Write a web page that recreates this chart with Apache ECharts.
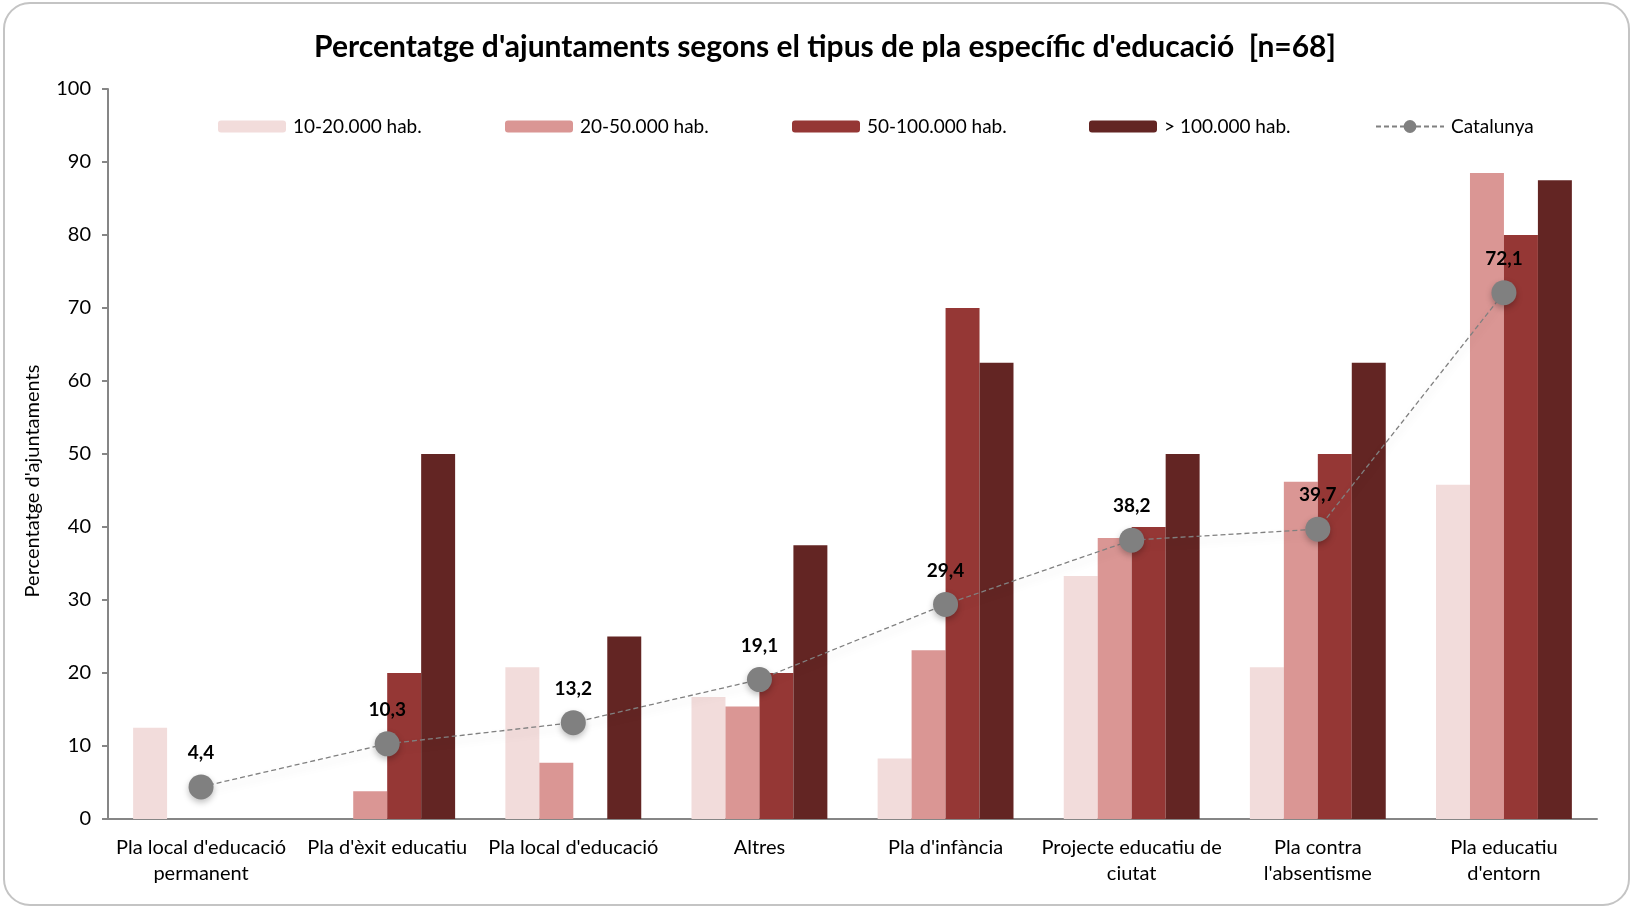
<!DOCTYPE html>
<html>
<head>
<meta charset="utf-8">
<title>Pla específic d'educació</title>
<script src="https://cdn.jsdelivr.net/npm/echarts@6/dist/echarts.min.js"></script>
<style>
  html, body { margin: 0; padding: 0; background: #fff; }
  #chart { width: 1633px; height: 909px; }
</style>
</head>
<body>
<div id="chart"></div>
<script>
// categories (x axis)
const categories = [
  "Pla local d'educació\npermanent",
  "Pla d'èxit educatiu",
  "Pla local d'educació",
  'Altres',
  "Pla d'infància",
  'Projecte educatiu de\nciutat',
  "Pla contra\nl'absentisme",
  "Pla educatiu\nd'entorn"
]
const seriesNames = ['10-20.000 hab.', '20-50.000 hab.', '50-100.000 hab.', '> 100.000 hab.']
const hab10to20 = [12.5, 0, 20.8, 16.7, 8.3, 33.3, 20.8, 45.8]
const hab20to50 = [0, 3.8, 7.7, 15.4, 23.1, 38.5, 46.2, 88.5]
const hab50to100 = [0, 20, 0, 20, 70, 40, 50, 80]
const habOver100 = [0, 50, 25, 37.5, 62.5, 50, 62.5, 87.5]
const catalunya = [4.4, 10.3, 13.2, 19.1, 29.4, 38.2, 39.7, 72.1]

const barColors = ['#F2DCDB', '#DA9694', '#953735', '#632523']
const FONT = 'Lato'

const chart = echarts.init(document.getElementById('chart'))

const barSeries = [hab10to20, hab20to50, hab50to100, habOver100].map((data, i) => ({
  name: seriesNames[i],
  type: 'bar',
  data,
  barGap: '0%',
  barCategoryGap: '27%',
  itemStyle: { color: barColors[i] }
}))

// one legend per item so the slots are evenly spaced like the original
const legendLefts = [218, 505, 792, 1089, 1375]
const legendNames = [...seriesNames, 'Catalunya']
const legends = legendNames.map((name, i) => ({
  data: [name],
  left: legendLefts[i],
  top: 117,
  itemWidth: 68,
  itemHeight: i === 4 ? 16 : 12,
  itemGap: 0,
  padding: 0,
  textStyle: { fontFamily: FONT, fontSize: 19, color: '#000', padding: [0, 0, 0, 2] }
}))

const option = {
  animation: false,
  backgroundColor: '#fff',
  textStyle: { fontFamily: FONT },
  legend: legends,
  graphic: [
    {
      type: 'rect',
      shape: { x: 4, y: 3, width: 1625, height: 902, r: 26 },
      style: { fill: 'none', stroke: '#C4C4C4', lineWidth: 2 },
      silent: true,
      z: -1
    },
    {
      // chart title
      type: 'text',
      x: 825,
      y: 47,
      style: {
        text: "Percentatge d'ajuntaments segons el tipus de pla específic d'educació  [n=68]",
        fontFamily: FONT,
        fontSize: 30,
        fontWeight: 'bold',
        fill: '#000',
        align: 'center',
        verticalAlign: 'middle'
      }
    },
    {
      type: 'text',
      x: 33,
      y: 481,
      rotation: Math.PI / 2,
      style: {
        text: "Percentatge d'ajuntaments",
        fontFamily: FONT,
        fontSize: 20,
        fill: '#000',
        align: 'center',
        verticalAlign: 'middle'
      }
    }
  ],
  grid: { left: 108, right: 36, top: 89, bottom: 90 },
  xAxis: {
    type: 'category',
    data: categories,
    axisLine: { lineStyle: { color: '#868686', width: 2 } },
    axisTick: { show: false },
    axisLabel: { fontFamily: FONT, fontSize: 20, color: '#000', margin: 16, lineHeight: 26, interval: 0 }
  },
  yAxis: {
    type: 'value',
    min: 0,
    max: 100,
    interval: 10,
    axisLine: { show: true, lineStyle: { color: '#868686', width: 2 } },
    axisTick: { show: true, length: 6, lineStyle: { color: '#868686', width: 2 } },
    splitLine: { show: false },
    axisLabel: { fontFamily: FONT, fontSize: 20, color: '#000', margin: 17 }
  },
  series: [
    ...barSeries,
    {
      name: 'Catalunya',
      type: 'line',
      data: catalunya,
      z: 5,
      symbol: 'circle',
      symbolSize: 25,
      itemStyle: {
        color: '#808080',
        shadowColor: 'rgba(0,0,0,0.25)',
        shadowBlur: 6,
        shadowOffsetY: 3
      },
      lineStyle: {
        color: '#808080',
        width: 1.3,
        type: [5, 3],
        shadowColor: 'rgba(0,0,0,0.18)',
        shadowBlur: 8,
        shadowOffsetY: 5
      },
      label: {
        show: true,
        position: 'top',
        distance: 12,
        fontFamily: FONT,
        fontSize: 19,
        fontWeight: 'bold',
        color: '#000',
        formatter: p => String(p.value).replace('.', ',')
      }
    }
  ]
}

chart.setOption(option)
</script>
</body>
</html>
